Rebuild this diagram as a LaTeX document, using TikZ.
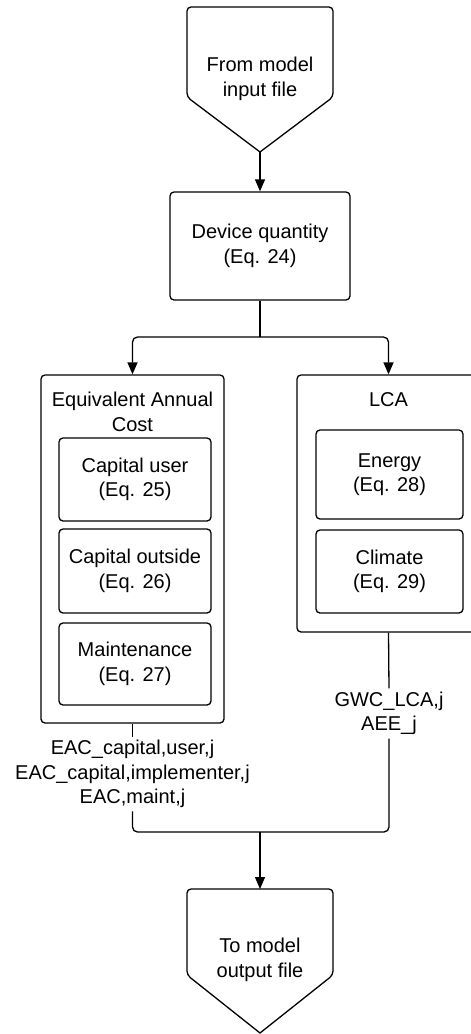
\documentclass[tikz,border=0pt]{standalone}
\usepackage{fontspec}
\setmainfont{Liberation Sans}
\usetikzlibrary{arrows.meta}

\begin{document}
\begin{tikzpicture}[x=1pt,y=-1pt,
  line width=1.3pt,
  every node/.style={font=\fontsize{20}{24.5}\selectfont, align=center, inner sep=3pt},
  box/.style={draw, rounded corners=4pt},
  arrow/.style={-{Triangle[length=12pt,width=10pt]}},
  txt/.style={inner sep=3pt}
]
\clip (0,0) rectangle (471,1034);

% source pentagon
\draw[rounded corners=4pt] (260,152) coordinate (srcTip) -- (187,97) -- (187,7) -- (333,7) -- (333,97) [sharp corners] -- cycle;
\node[txt] (src) at (260,79) {From model\\input file};

% device quantity
\node[box, minimum width=180pt, minimum height=108pt] (dev) at (260,246) {Device quantity\\(Eq. 24)};

% equivalent annual cost group
\node[box, minimum width=183pt, minimum height=348pt] (eac) at (132.5,549) {};
\node[txt] (eacT) at (132.5,412) {Equivalent Annual\\Cost};
\node[box, minimum width=152pt, minimum height=83pt] (capU) at (135,479.5) {Capital user\\(Eq. 25)};
\node[box, minimum width=152pt, minimum height=84pt] (capO) at (135,571) {Capital outside\\(Eq. 26)};
\node[box, minimum width=152pt, minimum height=82pt] (mnt) at (135,664) {Maintenance\\(Eq. 27)};

% LCA group
\node[box, minimum width=183pt, minimum height=257pt] (lca) at (388.5,503.5) {};
\node[txt] (lcaT) at (388.5,400) {LCA};
\node[box, minimum width=147pt, minimum height=89pt] (eng) at (389.5,474.5) {Energy\\(Eq. 28)};
\node[box, minimum width=147pt, minimum height=83pt] (clm) at (389.5,571.5) {Climate\\(Eq. 29)};

% output labels
\node[txt] (eacL) at (132.5,774) {EAC\_capital,user,j\\EAC\_capital,implementer,j\\EAC,maint,j};
\node[txt] (lcaL) at (389,713.5) {GWC\_LCA,j\\AEE\_j};

% sink pentagon
\draw[rounded corners=4pt] (260,1033) coordinate (dstTip) -- (187,975) -- (187,889) -- (333,889) -- (333,975) [sharp corners] -- cycle;
\coordinate (dstTop) at (260,889);
\node[txt] (dst) at (260,960) {To model\\output file};

% connectors
\coordinate (split) at (260,337);
\coordinate (join) at (260,832);
\draw[arrow] (srcTip) -- (dev.north);
\draw (dev.south) -- (split);
\draw[arrow, rounded corners=5pt] (split) -| (eac.north);
\draw[arrow, rounded corners=5pt] (split) -| (lca.north);
\draw (eac.south) -- (eacL.north);
\draw (lca.south) -- (lcaL.north);
\draw[rounded corners=5pt] (eacL.south) |- (join) -| (lcaL.south);
\draw[arrow] (join) -- (dstTop);
\end{tikzpicture}
\end{document}
